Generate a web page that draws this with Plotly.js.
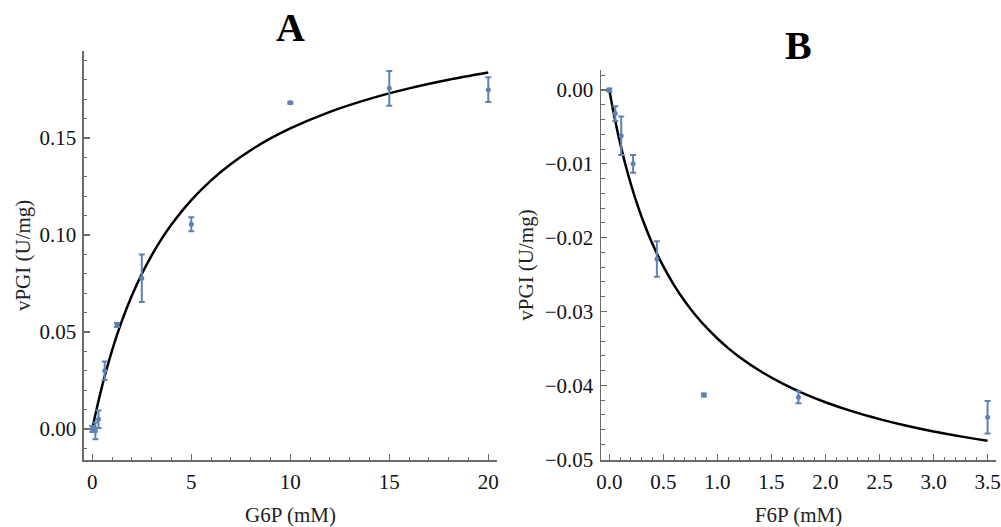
<!DOCTYPE html>
<html>
<head>
<meta charset="utf-8">
<script src="https://cdn.plot.ly/plotly-3.0.1.min.js"></script>
<style>html,body{margin:0;padding:0;background:#fff;}#chart{width:1001px;height:527px;}</style>
</head>
<body>
<div id="chart"></div>
<script>
// Panel A: G6P
const g6p = [0, 0.156, 0.3125, 0.625, 1.25, 2.5, 5, 10, 15, 20];
const vA = [0.000, -0.001, 0.005, 0.030, 0.0536, 0.0777, 0.1055, 0.1682, 0.1756, 0.1749];
const errA = [0.0015, 0.0043, 0.0045, 0.0048, 0.0010, 0.0123, 0.0036, 0.0005, 0.0090, 0.0064];
// fitted curve A
const fitAx = [0, 0.1, 0.25, 0.5, 0.75, 1, 1.5, 2, 2.5, 3, 3.5, 4, 5, 6, 7, 8, 9, 10, 12, 14, 16, 18, 20];
const fitAy = [0, 0.00484, 0.01173, 0.02230, 0.03188, 0.04058, 0.05584, 0.06878, 0.07992, 0.08952, 0.09800, 0.10542, 0.11799, 0.12818, 0.13664, 0.14369, 0.14977, 0.15495, 0.16348, 0.17017, 0.17557, 0.18000, 0.18371];

// Panel B: F6P
const f6p = [0, 0.055, 0.11, 0.22, 0.44, 0.875, 1.75, 3.5];
const vB = [0.000, -0.0032, -0.0062, -0.0100, -0.0229, -0.0413, -0.0416, -0.0443];
const errB = [0.0002, 0.0010, 0.0026, 0.0012, 0.0024, 0.0002, 0.0008, 0.0022];
// fitted curve B
const fitBx = [0, 0.025, 0.05, 0.075, 0.1, 0.15, 0.2, 0.25, 0.3, 0.4, 0.5, 0.6, 0.7, 0.8, 0.9, 1.0, 1.1, 1.2, 1.4, 1.6, 1.8, 2.0, 2.25, 2.5, 2.75, 3.0, 3.25, 3.5];
const fitBy = [0, -0.00199, -0.00384, -0.00558, -0.00720, -0.01016, -0.01278, -0.01513, -0.01723, -0.02087, -0.02389, -0.02645, -0.02864, -0.03053, -0.03219, -0.03365, -0.03495, -0.03611, -0.03809, -0.03973, -0.04111, -0.04228, -0.04352, -0.04456, -0.04546, -0.04623, -0.04690, -0.04750];

const titles = ["A", "B"];
const xLabels = ["G6P (mM)", "F6P (mM)"];
const yLabel = "vPGI (U/mg)";

const blue = "#5E81B5";
const axisCol = "#6b6b6b";
const font = "Liberation Serif, Times New Roman, serif";

function pts(x, y, e, xa, ya) {
  return {x: x, y: y, xaxis: xa, yaxis: ya, type: "scatter", mode: "markers",
    marker: {color: blue, size: 5},
    error_y: {type: "data", array: e, visible: true, color: blue, thickness: 2, width: 3},
    showlegend: false, hoverinfo: "x+y"};
}
function fit(x, y, xa, ya) {
  return {x: x, y: y, xaxis: xa, yaxis: ya, type: "scatter", mode: "lines",
    line: {color: "#000", width: 2.5, shape: "spline", smoothing: 0.8},
    showlegend: false, hoverinfo: "skip"};
}

const data = [
  fit(fitAx, fitAy, "x", "y"),
  pts(g6p, vA, errA, "x", "y"),
  fit(fitBx, fitBy, "x2", "y2"),
  pts(f6p, vB, errB, "x2", "y2")
];

const titleFont = {family: font, size: 21, color: "#222"};

function axis(o) {
  return Object.assign({
    showgrid: false, zeroline: false, showline: true, linecolor: axisCol, linewidth: 1.5,
    ticks: "inside", ticklen: 6, tickwidth: 1.2, tickcolor: axisCol,
    tickfont: {family: font, size: 21, color: "#111"},
    ticklabelstandoff: 2,
    mirror: false, automargin: false, fixedrange: true
  }, o);
}
function minor(d) {
  return {ticks: "inside", ticklen: 3.5, tickwidth: 1, tickcolor: axisCol, dtick: d, showgrid: false};
}

const layout = {
  width: 1001, height: 527,
  margin: {l: 0, r: 0, t: 0, b: 0},
  paper_bgcolor: "#fff", plot_bgcolor: "#fff",
  showlegend: false,
  xaxis: axis({domain: [0.0839, 0.4965], range: [-0.42, 20.44], dtick: 5, tick0: 0, minor: minor(1),
    anchor: "y", title: {text: xLabels[0], font: titleFont, standoff: 16}}),
  yaxis: axis({domain: [0.1271, 0.9038], range: [-0.016, 0.195], dtick: 0.05, tick0: 0, tickformat: ".2f", minor: minor(0.01),
    anchor: "x", title: {text: yLabel, font: titleFont, standoff: 3}}),
  xaxis2: axis({domain: [0.6004, 0.995], range: [-0.077, 3.578], dtick: 0.5, tick0: 0, tickformat: ".1f", minor: minor(0.1),
    anchor: "y2", title: {text: xLabels[1], font: titleFont, standoff: 16}}),
  yaxis2: axis({domain: [0.1271, 0.8672], range: [-0.0501, 0.0027], dtick: 0.01, tick0: 0, tickformat: ".2f", minor: minor(0.002),
    anchor: "x2", title: {text: yLabel, font: titleFont, standoff: 5}}),
  annotations: [
    {text: "<b>" + titles[0] + "</b>", xref: "paper", yref: "paper", x: 290.5/1001, y: 1 - 28/527,
     xanchor: "center", yanchor: "middle", showarrow: false, font: {family: font, size: 40, color: "#000"}},
    {text: "<b>" + titles[1] + "</b>", xref: "paper", yref: "paper", x: 798.5/1001, y: 1 - 45/527,
     xanchor: "center", yanchor: "middle", showarrow: false, font: {family: font, size: 40, color: "#000"}}
  ]
};

Plotly.newPlot("chart", data, layout, {displayModeBar: false, staticPlot: true});
</script>
</body>
</html>
